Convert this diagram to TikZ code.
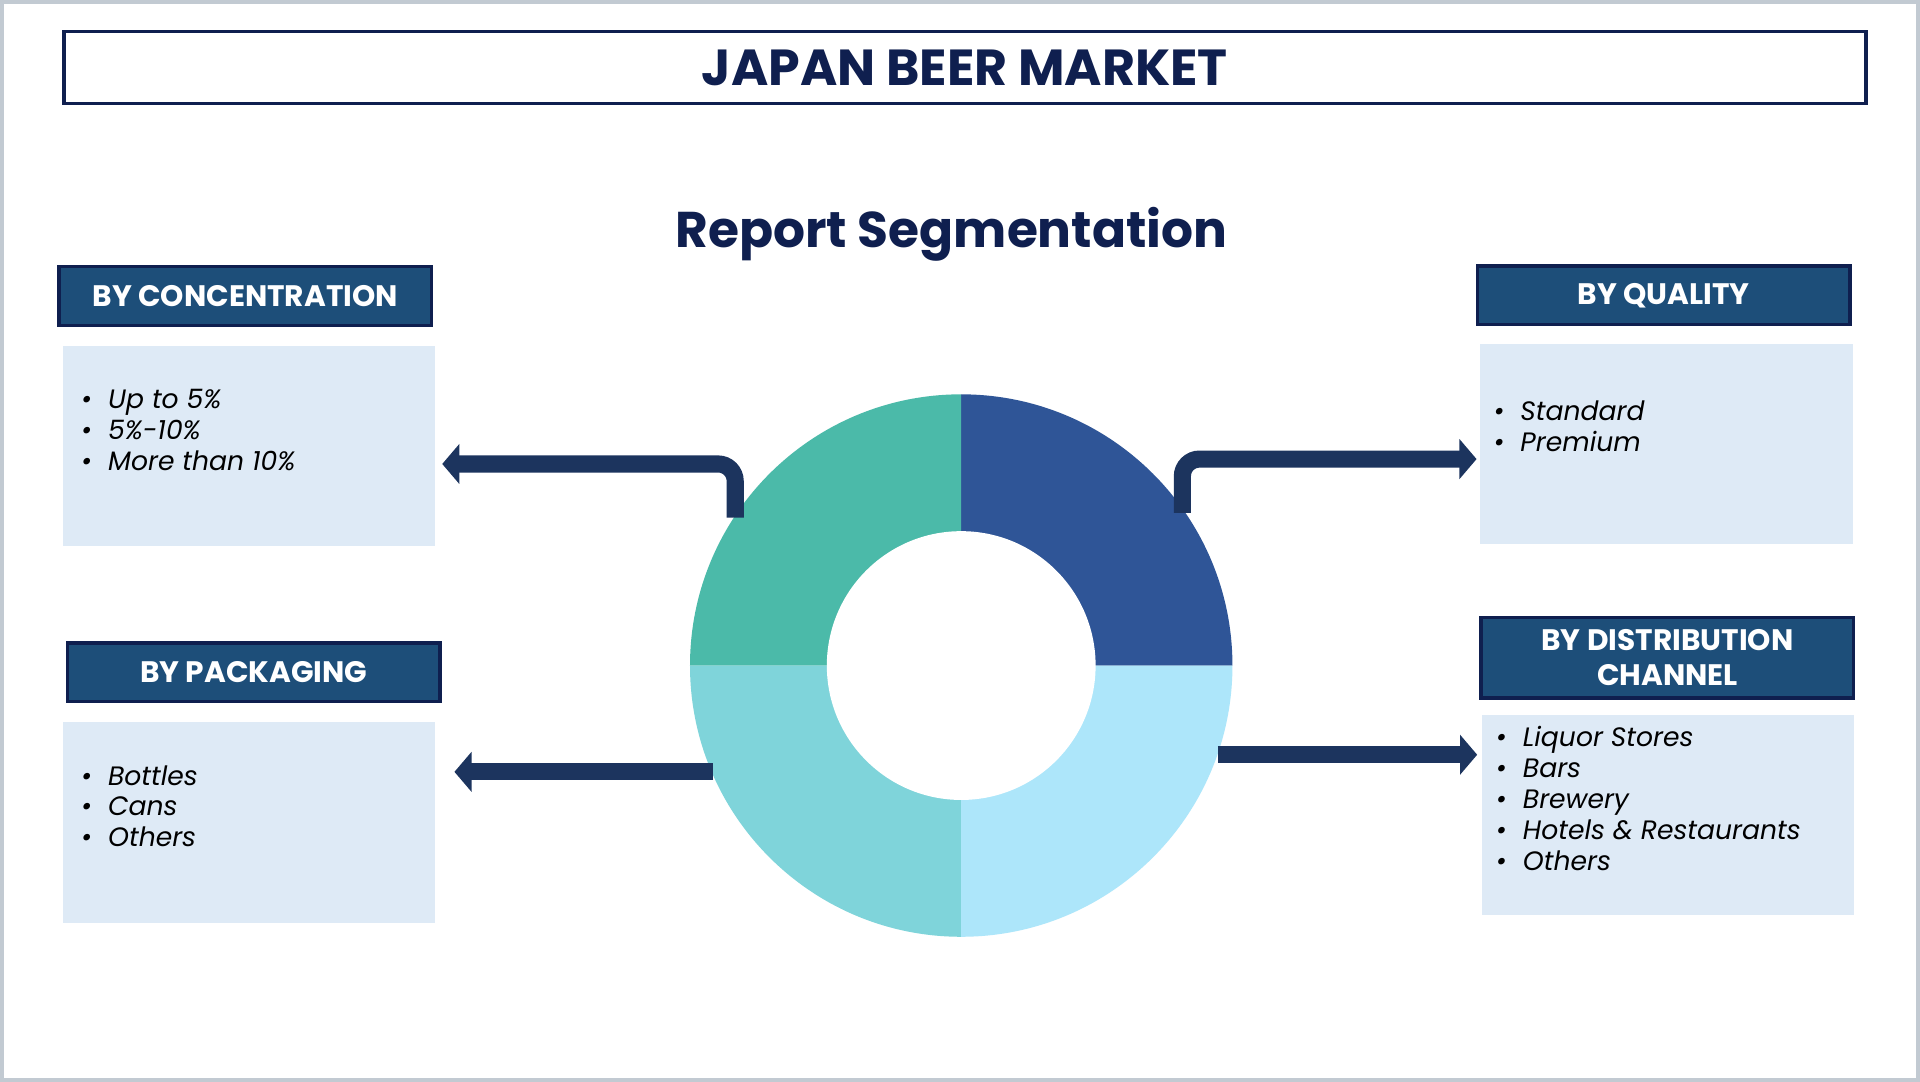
\documentclass[tikz,border=0pt]{standalone}
\usepackage{fontspec}
\setmainfont{Poppins}
\usetikzlibrary{arrows.meta}
\definecolor{navy}{HTML}{0F1F4F}
\definecolor{hdr}{HTML}{1D4E79}
\definecolor{pale}{HTML}{DEEAF6}
\definecolor{arrowc}{HTML}{1C345E}
\definecolor{segA}{HTML}{4BBAA9}
\definecolor{segB}{HTML}{2F5597}
\definecolor{segC}{HTML}{7FD4DA}
\definecolor{segD}{HTML}{ADE6FA}
\tikzset{
  header/.style={draw=navy, line width=0.8pt, fill=hdr, text=white, font=\bfseries\fontsize{6.9}{8.2}\selectfont, minimum width=3.05cm, minimum height=0.48cm, align=center, inner sep=0pt},
  listbox/.style={fill=pale, minimum width=3.05cm, minimum height=1.64cm, inner sep=0pt},
  items/.style={font=\itshape\fontsize{6.2}{7.2}\selectfont, align=left, anchor=north west, inner sep=0pt},
  link/.style={arrowc, line width=0.14cm, rounded corners=0.14cm, -{Triangle[width=0.32cm,length=0.14cm]}}
}
\newcommand{\bul}{\textbullet\hspace{0.6em}}
\begin{document}
\begin{tikzpicture}
  \fill[white] (0,0) rectangle (15.68,-8.82);
  \draw[pale!70!gray, line width=1pt] (0,0) rectangle (15.68,-8.82);

  % title
  \node[draw=navy, line width=0.8pt, minimum width=14.75cm, minimum height=0.59cm, inner sep=0pt] (title) at (7.88,-0.535) {};
  \node[navy, font=\bfseries\fontsize{11.8}{14}\selectfont] (ttext) at (title) {JAPAN BEER MARKET};
  \node[navy, font=\bfseries\fontsize{11.7}{14}\selectfont] (sub) at (7.77,-1.9) {Report Segmentation};

  % donut
  \fill[segB] (7.85,-5.43) -- (7.85,-3.21) arc (90:0:2.22) -- cycle;
  \fill[segA] (7.85,-5.43) -- (5.63,-5.43) arc (180:90:2.22) -- cycle;
  \fill[segC] (7.85,-5.43) -- (7.85,-7.65) arc (270:180:2.22) -- cycle;
  \fill[segD] (7.85,-5.43) -- (10.07,-5.43) arc (0:-90:2.22) -- cycle;
  \fill[white] (7.85,-5.43) circle (1.1);

  % left column
  \node[header] (hconc) at (1.99,-2.405) {BY CONCENTRATION};
  \node[listbox] (lconc) at (2.02,-3.635) {};
  \node[items] (iconc) at (0.64,-3.16) {\bul Up to 5\%\\ \bul 5\%-10\%\\ \bul More than 10\%};
  \node[header] (hpack) at (2.06,-5.485) {BY PACKAGING};
  \node[listbox] (lpack) at (2.02,-6.715) {};
  \node[items] (ipack) at (0.64,-6.24) {\bul Bottles\\ \bul Cans\\ \bul Others};

  % right column
  \node[header] (hqual) at (13.6,-2.4) {BY QUALITY};
  \node[listbox] (lqual) at (13.62,-3.615) {};
  \node[items] (iqual) at (12.2,-3.26) {\bul Standard\\ \bul Premium};
  \node[header, minimum height=0.66cm] (hdist) at (13.63,-5.365) {BY DISTRIBUTION\\CHANNEL};
  \node[listbox] (ldist) at (13.635,-6.655) {};
  \node[items] (idist) at (12.22,-5.92) {\bul Liquor Stores\\ \bul Bars\\ \bul Brewery\\ \bul Hotels \& Restaurants\\ \bul Others};

  % connectors
  \coordinate (sA) at (6.0,-4.22);
  \coordinate (sB) at (9.66,-4.18);
  \coordinate (sC) at (5.82,-6.3);
  \coordinate (sD) at (9.95,-6.16);
  \draw[link] (sA) |- ([xshift=0.05cm]lconc.east |- 0,-3.78);
  \draw[link] (sB) |- ([xshift=-0.02cm]lqual.west |- 0,-3.74);
  \draw[link] (sC) -- ([xshift=0.15cm]lpack.east |- sC);
  \draw[link] (sD) -- ([xshift=-0.03cm]ldist.west |- sD);
\end{tikzpicture}
\end{document}
